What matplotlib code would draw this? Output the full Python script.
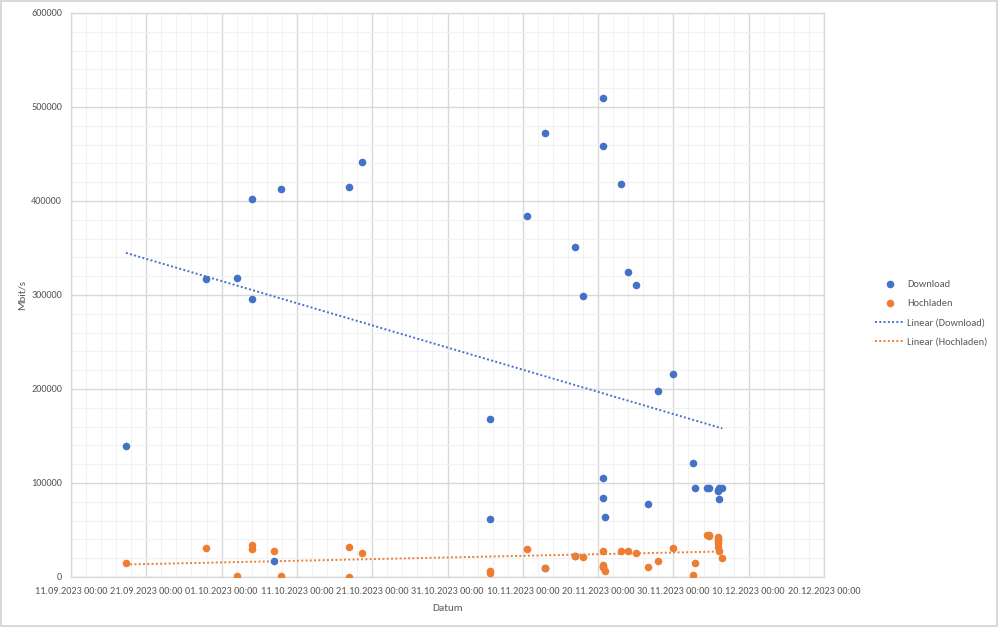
import matplotlib
matplotlib.use("Agg")
import matplotlib.pyplot as plt
import matplotlib.dates as mdates
from matplotlib.ticker import MultipleLocator, FuncFormatter
import numpy as np
import pandas as pd
import logging
logging.getLogger('matplotlib.font_manager').setLevel(logging.ERROR)

plt.rcParams['font.family'] = ['Carlito', 'Lato', 'DejaVu Sans']

dl_dates = ["2023-09-18 07:00", "2023-09-28 22:00", "2023-10-03 00:00", "2023-10-05 00:00",
            "2023-10-05 00:00", "2023-10-08 00:00", "2023-10-08 22:00", "2023-10-17 22:00",
            "2023-10-19 17:00", "2023-11-05 14:00", "2023-11-05 14:00", "2023-11-10 12:00",
            "2023-11-12 22:00", "2023-11-12 22:00", "2023-11-16 22:00", "2023-11-16 22:00",
            "2023-11-18 00:00", "2023-11-20 16:00", "2023-11-20 16:00", "2023-11-20 16:00",
            "2023-11-20 16:00", "2023-11-20 16:00", "2023-11-20 22:00",
            "2023-11-23 00:00", "2023-11-24 00:00", "2023-11-25 00:00", "2023-11-26 14:00",
            "2023-11-28 00:00", "2023-11-29 22:00", "2023-12-02 14:00", "2023-12-02 22:00",
            "2023-12-04 12:00", "2023-12-04 19:00", "2023-12-05 22:00", "2023-12-05 22:00",
            "2023-12-06 00:00", "2023-12-06 00:00", "2023-12-06 12:00"]
dl_values = [139400, 317000, 318400, 401800, 295700, 17300, 412700, 414600,
             441500, 168000, 61700, 384000, 472700, 9600, 351400, 22300,
             299000, 509600, 458500, 105300, 84000, 10300, 63500,
             418000, 324800, 311000, 77700,
             198000, 216000, 121600, 94700, 94400, 94400, 93000, 91500,
             95000, 82700, 94400]

ul_dates = ["2023-09-18 07:00", "2023-09-28 22:00", "2023-10-03 00:00", "2023-10-05 00:00",
            "2023-10-05 00:00", "2023-10-08 00:00", "2023-10-08 22:00", "2023-10-17 22:00",
            "2023-10-17 22:00", "2023-10-19 17:00", "2023-11-05 14:00", "2023-11-05 14:00",
            "2023-11-10 12:00", "2023-11-12 22:00", "2023-11-16 22:00", "2023-11-18 00:00",
            "2023-11-20 16:00", "2023-11-20 16:00", "2023-11-20 16:00", "2023-11-20 22:00",
            "2023-11-23 00:00", "2023-11-24 00:00", "2023-11-25 00:00", "2023-11-26 14:00",
            "2023-11-28 00:00", "2023-11-29 22:00", "2023-12-02 14:00", "2023-12-02 22:00",
            "2023-12-04 12:00", "2023-12-04 16:00", "2023-12-04 19:00", "2023-12-05 22:00",
            "2023-12-05 22:00", "2023-12-05 22:00", "2023-12-05 23:00", "2023-12-05 22:00",
            "2023-12-06 00:00", "2023-12-06 12:00"]
ul_values = [14500, 30800, 1400, 34000, 29400, 28000, 700, 32000,
             300, 25200, 6700, 3900, 29800, 9600, 22300, 21600,
             27700, 12800, 10300, 6700, 28000, 28000, 25900, 10600,
             17000, 31200, 2100, 14900, 45000, 44500, 43600, 42200,
             39400, 35800, 40000, 32200, 28000, 19900]

x_start = "2023-09-11"
x_end = "2023-12-20"
y_max = 600000

blue = "#4472C4"
orange = "#ED7D31"
txt = "#595959"

fig = plt.figure(figsize=(9.98, 6.27), dpi=100)
fig.patch.set_facecolor("white")
fig.patch.set_edgecolor("#d9d9d9")
fig.patch.set_linewidth(1.5)
ax = fig.add_axes([71/998, 1-577/627, (824-71)/998, (577-13)/627])

xd = mdates.date2num(pd.to_datetime(dl_dates))
xu = mdates.date2num(pd.to_datetime(ul_dates))
yd = np.array(dl_values, dtype=float)
yu = np.array(ul_values, dtype=float)

ax.scatter(xd, yd, s=30, color=blue, zorder=4, label="Download", linewidths=0)
ax.scatter(xu, yu, s=30, color=orange, zorder=5, label="Hochladen", linewidths=0)

for x, y, c, lab in [(xd, yd, blue, "Linear (Download)"), (xu, yu, orange, "Linear (Hochladen)")]:
    k, b = np.polyfit(x, y, 1)
    xs = np.array([x.min(), x.max()])
    ax.plot(xs, k*xs + b, color=c, lw=1.4, linestyle=(0, (1, 1.2)), zorder=3, label=lab)

x0 = mdates.date2num(pd.Timestamp(x_start))
x1 = mdates.date2num(pd.Timestamp(x_end))
ax.set_xlim(x0, x1)
ax.set_ylim(0, y_max)

ax.xaxis.set_major_locator(MultipleLocator(10, offset=x0 % 10))
ax.xaxis.set_minor_locator(MultipleLocator(2, offset=x0 % 2))
ax.xaxis.set_major_formatter(FuncFormatter(lambda v, p: mdates.num2date(v).strftime("%d.%m.%Y %H:%M")))
ax.yaxis.set_major_locator(MultipleLocator(100000))
ax.yaxis.set_minor_locator(MultipleLocator(20000))
ax.yaxis.set_major_formatter(FuncFormatter(lambda v, p: f"{int(v)}"))

ax.grid(which="major", color="#d9d9d9", lw=1.0, zorder=0)
ax.grid(which="minor", color="#f2f2f2", lw=0.8, zorder=0)
ax.set_axisbelow(True)
for s in ax.spines.values():
    s.set_color("#d9d9d9")
    s.set_linewidth(1.0)

ax.tick_params(which="both", length=0, colors=txt, labelsize=7.4)
ax.tick_params(axis="x", pad=7)
ax.tick_params(axis="y", pad=6.5)

ax.set_xlabel("Datum", color=txt, fontsize=8, labelpad=6)
ax.set_ylabel("Mbit/s", color=txt, fontsize=8, labelpad=3)

leg = ax.legend(loc="center left", bbox_to_anchor=(875/998, 1-313/627), bbox_transform=fig.transFigure,
                frameon=False, fontsize=7.5, handlelength=2.9, handletextpad=0.2, labelspacing=0.95,
                borderaxespad=0, borderpad=0)
for t in leg.get_texts():
    t.set_color(txt)

fig.savefig("out.png", dpi=100, facecolor="white", edgecolor=fig.patch.get_edgecolor())
